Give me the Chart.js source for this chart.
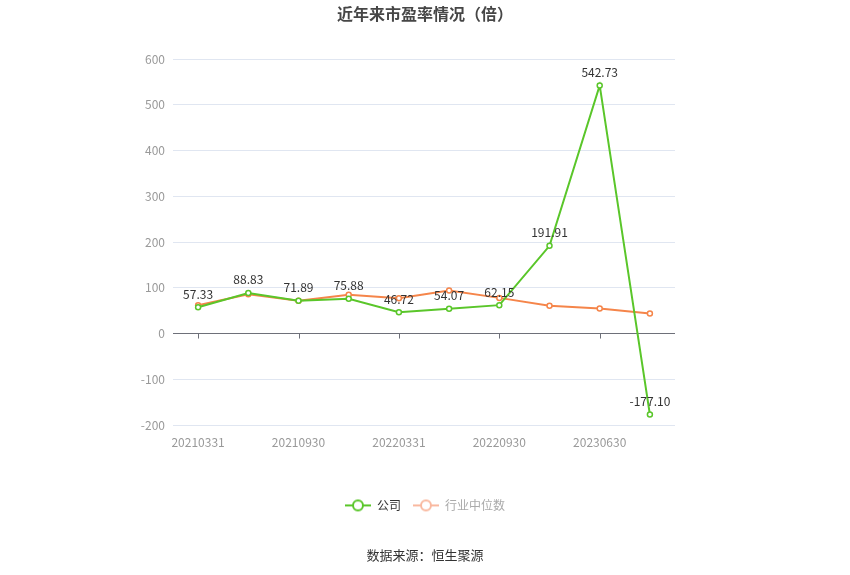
<!DOCTYPE html>
<html>
<head>
<meta charset="utf-8">
<script src="https://cdn.jsdelivr.net/npm/chart.js@4"></script>
<style>
  html, body { margin: 0; padding: 0; background: #fff; }
  #wrap { width: 850px; height: 575px; }
</style>
</head>
<body>
<div id="wrap"><canvas id="peChart" width="850" height="575"></canvas></div>
<script>
// 报告期
const periods = ['20210331', '20210630', '20210930', '20211231', '20220331', '20220630', '20220930', '20230331', '20230630', '20230930'];
// 公司市盈率
const companyPE = [57.33, 88.83, 71.89, 75.88, 46.72, 54.07, 62.15, 191.91, 542.73, -177.10];
// 行业中位数
const industryPE = [62, 86, 72, 85, 77, 94, 78, 61, 55, 44];
const yTicks = [-200, -100, 0, 100, 200, 300, 400, 500, 600];

const green = '#5ac62a';
const orange = '#f5854a';
const font = '"Noto Sans CJK SC", "Noto Sans", sans-serif';

// legend icon: short line with a hollow circle
function legendIcon(color) {
    const c = document.createElement('canvas');
    c.width = 26; c.height = 14;
    const g = c.getContext('2d');
    g.strokeStyle = color;
    g.lineWidth = 2;
    g.beginPath(); g.moveTo(0, 7); g.lineTo(26, 7); g.stroke();
    g.fillStyle = '#fff';
    g.beginPath(); g.arc(13, 7, 5, 0, Math.PI * 2); g.fill(); g.stroke();
    return c;
}

// small tick marks hanging under the zero line
const zeroTicks = {
    id: 'zeroTicks',
    beforeDatasetsDraw(chart) {
        const x = chart.scales.x, y = chart.scales.y;
        const y0 = y.getPixelForValue(0);
        const ctx = chart.ctx;
        ctx.save();
        ctx.strokeStyle = '#6e7079';
        ctx.lineWidth = 1;
        periods.forEach((p, i) => {
            if (i % 2 !== 0) return;
            const px = Math.round(x.getPixelForValue(i)) + 0.5;
            ctx.beginPath(); ctx.moveTo(px, y0); ctx.lineTo(px, y0 + 5); ctx.stroke();
        });
        ctx.restore();
    }
};

// value labels above company points
const valueLabels = {
    id: 'valueLabels',
    afterDatasetsDraw(chart) {
        const ctx = chart.ctx;
        const meta = chart.getDatasetMeta(0);
        ctx.save();
        ctx.font = '12px ' + font;
        ctx.fillStyle = '#333';
        ctx.textAlign = 'center';
        ctx.textBaseline = 'bottom';
        meta.data.forEach((pt, i) => {
            ctx.fillText(companyPE[i].toFixed(2), pt.x, pt.y - 7);
        });
        ctx.restore();
    }
};

const ctx = document.getElementById('peChart').getContext('2d');
const peChart = new Chart(ctx, {
    type: 'line',
    data: {
        labels: periods,
        datasets: [{
            label: '公司',
            data: companyPE,
            borderColor: green,
            backgroundColor: '#fff',
            borderWidth: 2,
            pointRadius: 2.5,
            pointBorderWidth: 1.5,
            pointBorderColor: green,
            pointBackgroundColor: '#fff',
            tension: 0
        }, {
            label: '行业中位数',
            data: industryPE,
            borderColor: orange,
            backgroundColor: '#fff',
            borderWidth: 2,
            pointRadius: 2.5,
            pointBorderWidth: 1.5,
            pointBorderColor: orange,
            pointBackgroundColor: '#fff',
            tension: 0
        }]
    },
    options: {
        responsive: false,
        animation: false,
        layout: { padding: { left: 0, right: 0, top: 0, bottom: 6 } },
        scales: {
            x: {
                offset: true,
                grid: { display: false },
                border: { display: false },
                afterFit: function(scale) { scale.height += 36; },
                ticks: {
                    autoSkip: false,
                    maxRotation: 0,
                    color: '#999',
                    font: { size: 12, family: font },
                    padding: 2,
                    callback: function(v, i) { return i % 2 === 0 ? periods[i] : ''; }
                }
            },
            y: {
                min: -200,
                max: 600,
                afterBuildTicks: function(scale) { scale.ticks = yTicks.map(v => ({ value: v })); },
                afterFit: function(scale) { scale.width = 173; },
                grid: {
                    color: function(c) { return c.tick && c.tick.value === 0 ? '#6e7079' : '#e0e6f1'; },
                    drawTicks: false
                },
                border: { display: false },
                ticks: {
                    color: '#999',
                    font: { size: 12, family: font },
                    padding: 8
                }
            },
            spacer: {
                position: 'right',
                display: true,
                grid: { display: false },
                border: { display: false },
                ticks: { display: false },
                afterFit: function(scale) { scale.width = 175; }
            }
        },
        plugins: {
            title: {
                display: true,
                text: '近年来市盈率情况（倍）',
                color: '#464646',
                font: { size: 16, weight: 'bold', family: font },
                padding: { top: 4, bottom: 36 }
            },
            subtitle: {
                display: true,
                position: 'bottom',
                text: '数据来源：恒生聚源',
                color: '#333',
                font: { size: 13, family: font },
                padding: { top: 26, bottom: 6 }
            },
            legend: {
                position: 'bottom',
                labels: {
                    usePointStyle: true,
                    pointStyleWidth: 26,
                    boxHeight: 14,
                    padding: 12,
                    font: { size: 12, family: font },
                    generateLabels: function(chart) {
                        return chart.data.datasets.map((ds, i) => ({
                            text: ds.label,
                            pointStyle: legendIcon(i === 0 ? green : '#f9b9a0'),
                            fontColor: i === 0 ? '#333' : '#aaa',
                            strokeStyle: 'transparent',
                            fillStyle: 'transparent',
                            lineWidth: 0,
                            hidden: false,
                            datasetIndex: i
                        }));
                    }
                }
            },
            tooltip: { enabled: false }
        }
    },
    plugins: [zeroTicks, valueLabels]
});
</script>
</body>
</html>
